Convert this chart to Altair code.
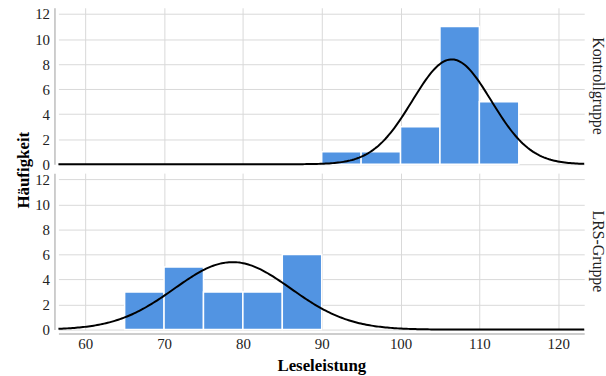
import altair as alt
import numpy as np
import pandas as pd

# Histogram bins (lower edge, width 5) and counts per group
groups = ["Kontrollgruppe", "LRS-Gruppe"]
bin_start_kontroll = [90, 95, 100, 105, 110]
count_kontroll = [1, 1, 3, 11, 5]
bin_start_lrs = [65, 70, 75, 80, 85]
count_lrs = [3, 5, 3, 3, 6]
bin_width = 5

# Normal fit parameters per group (mean, sd, n)
fit_mean = [106.5, 78.7]
fit_sd = [5.0, 7.4]
fit_n = [21, 20]

x_min, x_max = 56.6, 123.3
x_ticks = [60, 70, 80, 90, 100, 110, 120]
y_ticks = [0, 2, 4, 6, 8, 10, 12]

rows = []
for g, starts, counts in [
    (groups[0], bin_start_kontroll, count_kontroll),
    (groups[1], bin_start_lrs, count_lrs),
]:
    for s, c in zip(starts, counts):
        rows.append({"group": g, "kind": "bar", "x": s, "x2": s + bin_width, "y": c})

# Normal density scaled to counts (n * bin width * pdf)
xs = np.linspace(x_min, x_max, 300)
for g, m, sd, n in zip(groups, fit_mean, fit_sd, fit_n):
    dens = n * bin_width * np.exp(-0.5 * ((xs - m) / sd) ** 2) / (sd * np.sqrt(2 * np.pi))
    for xv, yv in zip(xs, dens):
        rows.append({"group": g, "kind": "curve", "x": float(xv), "x2": None, "y": float(yv)})

df = pd.DataFrame(rows)

serif = "Liberation Serif"

x_scale = alt.Scale(domain=[x_min, x_max], nice=False, zero=False)
y_scale = alt.Scale(domain=[0, 12.5], nice=False)

x_axis = alt.Axis(
    values=x_ticks, title="Leseleistung", grid=True, ticks=False, tickSize=0,
    labelPadding=3, titlePadding=6, labelOverlap=False,
    labelFont=serif, labelFontSize=15, labelColor="#222",
)
y_axis = alt.Axis(
    values=y_ticks, title=None, grid=True, ticks=False, tickSize=0,
    labelPadding=5, labelOverlap=False,
    labelFont=serif, labelFontSize=15, labelColor="#222",
)

bars = alt.Chart().mark_rect(
    color="#5294E2", stroke="white", strokeWidth=1.5
).encode(
    x=alt.X("x:Q", scale=x_scale, axis=x_axis),
    x2="x2:Q",
    y=alt.Y("y:Q", scale=y_scale, axis=y_axis),
    y2=alt.datum(0),
).transform_filter(alt.datum.kind == "bar")

curve = alt.Chart().mark_line(color="black", strokeWidth=2).encode(
    x=alt.X("x:Q", scale=x_scale, axis=x_axis),
    y=alt.Y("y:Q", scale=y_scale, axis=y_axis),
).transform_filter(alt.datum.kind == "curve")

chart = alt.layer(bars, curve, data=df).properties(
    width=531, height=158
).facet(
    row=alt.Row(
        "group:N", sort=groups,
        header=alt.Header(
            title="Häufigkeit", titleOrient="left", titleAngle=-90,
            titleFont=serif, titleFontSize=17, titleFontWeight="bold",
            titleColor="black", titlePadding=-25,
            labelOrient="right", labelAngle=90,
            labelFont=serif, labelFontSize=16, labelColor="#222",
            labelPadding=2,
        ),
    ),
    spacing=5,
).configure_view(
    stroke=None
).configure_axis(
    titleFont=serif, titleFontSize=17, titleFontWeight="bold", titleColor="black",
    gridColor="#d9d9d9", gridWidth=1,
    domainColor="#bdbdbd", domainWidth=1.5,
).properties(
    padding={"left": 14, "top": 5, "right": 0, "bottom": 0},
    background="white",
)

chart.save("out.html", embed_options={"renderer": "svg", "actions": False})
